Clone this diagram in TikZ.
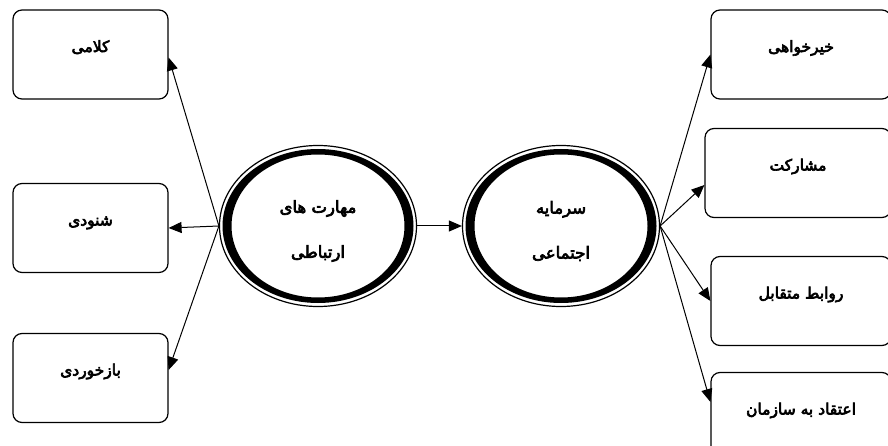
\documentclass[tikz,border=0pt]{standalone}
\usepackage{fontspec}
\newfontfamily\farsi[Script=Arabic, FakeBold=4]{DejaVu Sans}
\TeXXeTstate=1
\usetikzlibrary{
  arrows.meta,
  positioning,
  shapes.geometric
}

\begin{document}
\begin{tikzpicture}[
      x=1pt, y=-1pt,
      >={Triangle[length=13pt,width=11pt]},
      jabe/.style={draw, line width=1.2pt, rounded corners=9pt,
                   minimum width=155pt, minimum height=89pt, inner sep=0pt,
                   text height=11pt, text depth=16pt,
                   font=\farsi\fontsize{15.5}{17}\selectfont},
      dayere/.style={draw, ellipse, line width=1.2pt,
                     minimum width=197pt, minimum height=161pt, inner sep=0pt},
      matn/.style={align=center, inner sep=0pt, font=\farsi\fontsize{16.5}{45}\selectfont},
      halghe/.style={fill=black, even odd rule},
      peykan/.style={->, line width=1pt}
  ]
      \useasboundingbox (0,0) rectangle (888,446);

      % --- DAYERE-HA ---
      \node[dayere] (maharat) at (318,226) {};
      \node[dayere] (sarmaye) at (561,226) {};
      \fill[halghe] (maharat.center) ellipse [x radius=95.5pt, y radius=77pt]
                    (maharat.center) ellipse [x radius=86.5pt, y radius=71.5pt];
      \fill[halghe] (sarmaye.center) ellipse [x radius=95.5pt, y radius=77pt]
                    (sarmaye.center) ellipse [x radius=86.5pt, y radius=71.5pt];
      \node[matn] (maharat-matn) at ([yshift=-5pt]maharat.center) {\beginR مهارت های\endR\\\beginR ارتباطی\endR};
      \node[matn] (sarmaye-matn) at ([yshift=-5pt]sarmaye.center) {\beginR سرمایه\endR\\\beginR اجتماعی\endR};

      % --- JABE-HAYE CHAP ---
      \node[jabe] (kalami)    at (90.5,54.5) {\beginR کلامی\endR};
      \node[jabe] (shenudi)   at (90.5,228)  {\beginR شنودی\endR};
      \node[jabe] (bazkhordi) at (90.5,378)  {\beginR بازخوردی\endR};

      % --- JABE-HAYE RAST ---
      \node[jabe, minimum width=180pt] (kheir)    at (801,54.5) {\beginR خیرخواهی\endR};
      \node[jabe, minimum width=186pt] (mosharekat) at (798,173) {\beginR مشارکت\endR};
      \node[jabe, minimum width=180pt] (ravabet)  at (801,301) {\beginR روابط متقابل\endR};
      \node[jabe, minimum width=180pt] (eteghad)  at (801,417) {\beginR اعتقاد به سازمان\endR};

      % --- PEYKAN-HA ---
      \draw[peykan] (maharat.west) -- ([yshift=-3pt]kalami.east);
      \draw[peykan] (maharat.west) -- (shenudi.east);
      \draw[peykan] (maharat.west) -- ([yshift=8pt]bazkhordi.east);
      \draw[peykan] (maharat.east) -- (sarmaye.west);
      \draw[peykan] (sarmaye.east) -- (kheir.west);
      \draw[peykan] (sarmaye.east) -- ([yshift=-12pt]mosharekat.west);
      \draw[peykan] (sarmaye.east) -- (ravabet.west);
      \draw[peykan] (sarmaye.east) -- ([yshift=15pt]eteghad.west);

  \end{tikzpicture}
\end{document}
